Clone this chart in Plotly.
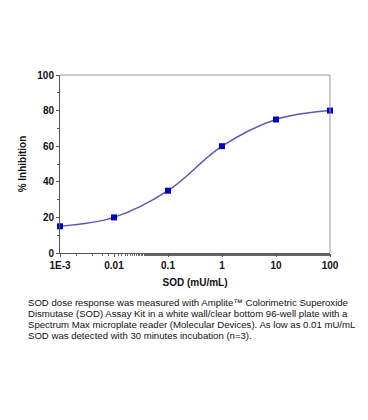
import plotly.graph_objects as go

sod = [0.001, 0.01, 0.1, 1, 10, 100]
inhibition = [15, 20, 35, 60, 75, 80]
x_tickvals = [0.001, 0.01, 0.1, 1, 10, 100]
x_ticktext = ["1E-3", "0.01", "0.1", "1", "10", "100"]
y_tickvals = [0, 20, 40, 60, 80, 100]
caption_lines = [
    "SOD dose response was measured with Amplite™ Colorimetric Superoxide",
    "Dismutase (SOD) Assay Kit in a white wall/clear bottom 96-well plate with a",
    "Spectrum Max microplate reader (Molecular Devices). As low as 0.01 mU/mL",
    "SOD was detected with 30 minutes incubation (n=3).",
]

fig = go.Figure()
fig.add_trace(go.Scatter(
    x=sod, y=inhibition, mode="lines",
    line=dict(color="#5a5ab4", width=1.5, shape="spline", smoothing=1.0),
    hoverinfo="skip", showlegend=False, cliponaxis=False,
))
fig.add_trace(go.Scatter(
    x=sod, y=inhibition, mode="markers",
    marker=dict(symbol="square", size=6, color="#0000cc"),
    showlegend=False, cliponaxis=False,
))

tickfont = dict(family="Liberation Sans, Arial", size=10, color="#111111", weight="bold")
fig.update_xaxes(
    type="log", range=[-3, 2], tickvals=x_tickvals, ticktext=x_ticktext,
    showline=True, linecolor="#555555", linewidth=1, mirror=False,
    ticks="outside", ticklen=3, tickcolor="#555555",
    minor=dict(ticks="outside", ticklen=2, tickcolor="#666666", showgrid=False),
    showgrid=False, zeroline=False, tickfont=tickfont, automargin=False,
    title=dict(text="SOD (mU/mL)", font=dict(family="Liberation Sans, Arial", size=10, color="#111111", weight="bold"), standoff=8),
)
fig.update_yaxes(
    range=[0, 100], tickvals=y_tickvals,
    showline=True, linecolor="#555555", linewidth=1, mirror=False,
    ticks="outside", ticklen=3, tickcolor="#555555",
    minor=dict(dtick=10, ticks="outside", ticklen=2, tickcolor="#666666", showgrid=False),
    showgrid=False, zeroline=False, tickfont=tickfont, automargin=False,
    title=dict(text="% Inhibition", font=dict(family="Liberation Sans, Arial", size=10, color="#111111", weight="bold"), standoff=8),
)
# gray top and right frame
fig.add_shape(type="line", xref="paper", yref="paper", x0=0, x1=1, y0=1, y1=1, line=dict(color="#999999", width=1))
fig.add_shape(type="line", xref="paper", yref="paper", x0=1, x1=1, y0=0, y1=1, line=dict(color="#999999", width=1))

for i, line in enumerate(caption_lines):
    fig.add_annotation(
        text=line, xref="paper", yref="paper", x=-34/270, y=-(49 + i * 11) / 178,
        xanchor="left", yanchor="middle", showarrow=False,
        font=dict(family="Liberation Sans, Arial", size=9.6, color="#111111"),
    )

# page body has an 8px default margin, so the figure is offset by 8px
fig.update_layout(
    width=360, height=412,
    margin=dict(l=52, r=38, t=67, b=167),
    paper_bgcolor="white", plot_bgcolor="white",
)
fig.write_html("out.html")
